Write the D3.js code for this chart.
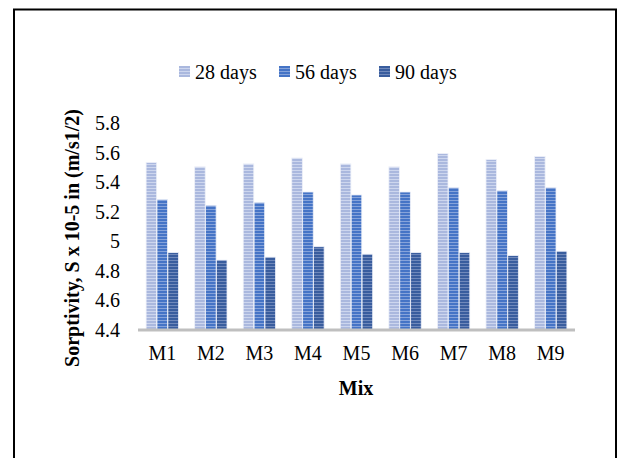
<!DOCTYPE html>
<html>
<head>
<meta charset="utf-8">
<script src="https://cdn.jsdelivr.net/npm/d3@7/dist/d3.min.js"></script>
<style>
  html, body { margin: 0; padding: 0; background: #fff; }
  svg { display: block; }
  text { font-family: "Liberation Serif", "Times New Roman", serif; fill: #000; }
</style>
</head>
<body>
<svg id="chart" width="618" height="458"></svg>
<script>
// Sorptivity per mix at three curing ages
const mixes = ["M1", "M2", "M3", "M4", "M5", "M6", "M7", "M8", "M9"];
const seriesNames = ["28 days", "56 days", "90 days"];
const days28 = [5.53, 5.50, 5.52, 5.56, 5.52, 5.50, 5.59, 5.55, 5.57];
const days56 = [5.28, 5.24, 5.26, 5.33, 5.31, 5.33, 5.36, 5.34, 5.36];
const days90 = [4.92, 4.87, 4.89, 4.96, 4.91, 4.92, 4.92, 4.90, 4.93];
const yTicks = [4.4, 4.6, 4.8, 5.0, 5.2, 5.4, 5.6, 5.8];

const seriesValues = [days28, days56, days90];
const fills = [
  { base: "#aab8de", line: "#cdd6ee" },
  { base: "#4574c6", line: "#86a3da" },
  { base: "#395d9e", line: "#7089bb" }
];
const serif = "'Liberation Serif', 'Times New Roman', serif";

const svg = d3.select("#chart");
const plot = { left: 138, right: 575, top: 122.5, bottom: 329.5 };

// Striped fills for each series
const defs = svg.append("defs");
fills.forEach((f, i) => {
  const p = defs.append("pattern")
    .attr("id", "stripe" + i)
    .attr("patternUnits", "userSpaceOnUse")
    .attr("width", 6).attr("height", 3);
  p.append("rect").attr("width", 6).attr("height", 3).attr("fill", f.base);
  p.append("rect").attr("y", 2).attr("width", 6).attr("height", 1).attr("fill", f.line);
});

// Outer frame
svg.append("rect")
  .attr("x", 14).attr("y", 9.5)
  .attr("width", 602).attr("height", 470)
  .attr("fill", "none").attr("stroke", "#000").attr("stroke-width", 2);

const x0 = d3.scaleBand().domain(mixes)
  .range([plot.left, plot.right]).paddingInner(0.32).paddingOuter(0.16);
const x1 = d3.scaleBand().domain(seriesNames)
  .range([0, x0.bandwidth()]).padding(0.03);
const y = d3.scaleLinear().domain([4.4, 5.8]).range([plot.bottom, plot.top]);

// Bars
const groups = svg.append("g").selectAll("g")
  .data(mixes).join("g")
  .attr("transform", d => `translate(${x0(d)},0)`);

groups.selectAll("rect")
  .data((m, mi) => seriesNames.map((s, si) => ({ s, si, v: seriesValues[si][mi] })))
  .join("rect")
  .attr("x", d => x1(d.s))
  .attr("width", x1.bandwidth())
  .attr("y", d => y(d.v))
  .attr("height", d => y(4.4) - y(d.v))
  .attr("fill", d => `url(#stripe${d.si})`)
  .attr("stroke", "#eef1f9").attr("stroke-width", 0.8);

// Category axis line
svg.append("line")
  .attr("x1", plot.left).attr("x2", plot.right)
  .attr("y1", plot.bottom + 0.5).attr("y2", plot.bottom + 0.5)
  .attr("stroke", "#bfbfbf").attr("stroke-width", 3);

// Value axis labels
const yAxis = d3.axisLeft(y).tickValues(yTicks).tickSize(0)
  .tickFormat(d => d3.format("")(+d.toFixed(1)));
const gy = svg.append("g").attr("transform", "translate(120,0)").call(yAxis)
  .attr("font-family", serif).attr("font-size", 20);
gy.select(".domain").remove();
gy.selectAll("text").attr("x", 0).attr("dy", "0.35em");

// Category labels
const xAxis = d3.axisBottom(x0).tickSize(0);
const gx = svg.append("g").attr("transform", `translate(0,${plot.bottom})`).call(xAxis)
  .attr("font-family", serif).attr("font-size", 20);
gx.select(".domain").remove();
gx.selectAll("text").attr("y", 23).attr("dy", "0.35em");

// Axis titles
svg.append("text")
  .attr("x", 356).attr("y", 388).attr("dy", "0.35em")
  .attr("text-anchor", "middle")
  .style("font-size", "20px").style("font-weight", "bold")
  .text("Mix");

svg.append("text")
  .attr("transform", "translate(72,238) rotate(-90)")
  .attr("dy", "0.35em")
  .attr("text-anchor", "middle")
  .style("font-size", "20px").style("font-weight", "bold")
  .text("Sorptivity, S x 10-5 in (m/s1/2)");

// Legend
const legendX = [179, 279, 379];
const legend = svg.append("g").selectAll("g")
  .data(seriesNames).join("g")
  .attr("transform", (d, i) => `translate(${legendX[i]},66)`);
legend.append("rect")
  .attr("width", 11).attr("height", 11)
  .attr("fill", (d, i) => `url(#stripe${i})`);
legend.append("text")
  .attr("x", 16).attr("y", 5.5).attr("dy", "0.35em")
  .style("font-size", "20px")
  .text(d => d);
</script>
</body>
</html>
